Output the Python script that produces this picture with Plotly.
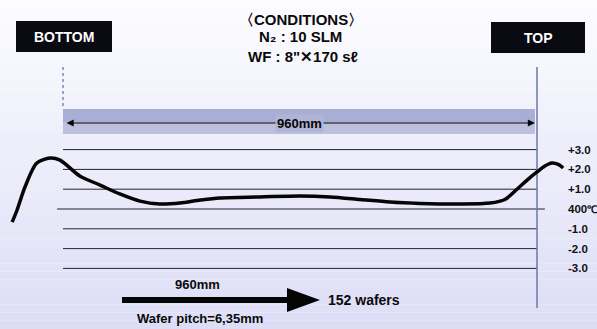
import plotly.graph_objects as go

W, H = 597, 329
PLOT_W = 565  # plot area width; the right margin carries the temperature labels

# Temperature profile along the boat (position in mm, deviation from 400 °C)
position_mm = [-103, -93, -77, -53, -26, -6, 34, 75, 115, 156, 196, 237, 278, 318,
               399, 480, 541, 602, 662, 723, 804, 865, 895, 920, 940, 960, 976,
               990, 1003, 1013]
temp_dev = [-0.66, -0.05, 1.11, 2.32, 2.58, 2.47, 1.67, 1.21, 0.76, 0.40, 0.25,
            0.30, 0.45, 0.56, 0.61, 0.66, 0.61, 0.48, 0.35, 0.28, 0.25, 0.30,
            0.48, 1.01, 1.46, 1.87, 2.17, 2.32, 2.25, 2.07]

levels = [-3, -2, -1, 0, 1, 2, 3]
level_labels = ["-3.0", "-2.0", "-1.0",
                "400<span style='font-size:10.5px'>℃</span>",
                "+1.0", "+2.0", "+3.0"]
zone_length_mm = 960

FONT = "Liberation Sans, Arial, sans-serif"

# pixel helpers for placing decorations
MM_PER_PX = 960 / 474
X0_PX = 63
Y0_PX = 209
PX_PER_DEG = 19.8


def xd(px):
    return (px - X0_PX) * MM_PER_PX


def yd(py):
    return (Y0_PX - py) / PX_PER_DEG


def xp(px):
    return px / PLOT_W


def yp(py):
    return 1 - py / H


fig = go.Figure()

# horizontal reference lines
for lv in levels:
    xs = [-12, 976] if lv == 0 else [0, zone_length_mm]
    fig.add_trace(go.Scatter(x=xs, y=[lv, lv], mode="lines",
                             line=dict(color="#23232f", width=1),
                             hoverinfo="skip", showlegend=False))

# zone boundaries
fig.add_trace(go.Scatter(x=[0, 0], y=[yd(67), yd(109)], mode="lines",
                         line=dict(color="#6b78a6", width=1.3, dash="dot"),
                         hoverinfo="skip", showlegend=False))
fig.add_trace(go.Scatter(x=[zone_length_mm, zone_length_mm], y=[yd(67), yd(308)],
                         mode="lines", line=dict(color="#6b78a6", width=1.5),
                         hoverinfo="skip", showlegend=False))

# temperature profile
fig.add_trace(go.Scatter(x=position_mm, y=temp_dev, mode="lines",
                         line=dict(color="#050505", width=3.5, shape="spline",
                                   smoothing=0.8),
                         showlegend=False))

shapes = []
# background gradient
n = 40
top_c = (252, 252, 255)
bot_c = (221, 221, 246)
for i in range(n):
    t = i / (n - 1)
    c = tuple(round(top_c[k] + (bot_c[k] - top_c[k]) * t) for k in range(3))
    shapes.append(dict(type="rect", xref="paper", yref="paper", layer="below",
                       x0=0, x1=W / PLOT_W, y0=1 - (i + 1) / n, y1=1 - i / n,
                       fillcolor="rgb(%d,%d,%d)" % c, line=dict(width=0)))

# shaded heated-zone band
shapes.append(dict(type="rect", xref="x", yref="y", layer="below",
                   x0=0, x1=xd(535), y0=yd(122), y1=yd(109),
                   fillcolor="#a9afd4", line=dict(width=0)))
shapes.append(dict(type="rect", xref="x", yref="y", layer="below",
                   x0=0, x1=xd(535), y0=yd(134), y1=yd(122),
                   fillcolor="#bcc0dd", line=dict(width=0)))

# BOTTOM / TOP labels
shapes.append(dict(type="rect", xref="paper", yref="paper",
                   x0=xp(16), x1=xp(112), y0=yp(52), y1=yp(21),
                   fillcolor="#0a0a12", line=dict(width=0)))
shapes.append(dict(type="rect", xref="paper", yref="paper",
                   x0=xp(491), x1=xp(585), y0=yp(53), y1=yp(22),
                   fillcolor="#0a0a12", line=dict(width=0)))

# load direction arrow
pts = [(122, 297), (287, 297), (287, 288), (320, 300), (287, 312), (287, 303), (122, 303)]
path = "M " + " L ".join("%.5f,%.5f" % (xp(a), yp(b)) for a, b in pts) + " Z"
shapes.append(dict(type="path", xref="paper", yref="paper", path=path,
                   fillcolor="#050505", line=dict(width=0)))

annotations = []


def text(px, py, s, size=13, color="#0a0a0a", xanchor="center"):
    annotations.append(dict(x=xp(px), y=yp(py), xref="paper", yref="paper",
                            text=s, showarrow=False, xanchor=xanchor,
                            yanchor="middle",
                            font=dict(family=FONT, size=size, color=color,
                                      weight="bold")))


text(301, 19, "〈CONDITIONS〉", size=15)
text(300, 37, "N₂ : 10 SLM", size=15)
text(303, 56, "WF : 8\"✕170 sℓ", size=15)
text(64, 37, "BOTTOM", size=14, color="#ffffff")
text(538, 38, "TOP", size=14, color="#ffffff")

# double-headed arrow across the heated zone
annotations.append(dict(x=xd(535), y=yd(123), ax=xd(65), ay=yd(123),
                        xref="x", yref="y", axref="x", ayref="y", text="",
                        showarrow=True, arrowhead=2, arrowside="end+start",
                        arrowsize=1.2, arrowwidth=1.2, arrowcolor="#050505"))
annotations.append(dict(x=xd(299), y=yd(123), xref="x", yref="y",
                        text="%dmm" % zone_length_mm, showarrow=False,
                        xanchor="center", yanchor="middle",
                        bgcolor="#b0b5d7", borderpad=1,
                        font=dict(family=FONT, size=13, color="#050505",
                                  weight="bold")))

text(197, 284, "%dmm" % zone_length_mm, size=13)
text(200, 318, "Wafer pitch=6,35mm", size=13)
text(326, 300, "152 wafers", size=14, xanchor="left")

fig.update_layout(
    width=W, height=H,
    margin=dict(l=0, r=W - PLOT_W, t=0, b=0, autoexpand=False),
    paper_bgcolor="#fcfcff",
    plot_bgcolor="rgba(0,0,0,0)",
    shapes=shapes,
    annotations=annotations,
    xaxis=dict(range=[xd(0), xd(PLOT_W)], visible=False, fixedrange=True),
    yaxis=dict(range=[yd(H), yd(0)], side="right", tickvals=levels,
               ticktext=level_labels, showgrid=False, zeroline=False,
               showline=False, ticks="", ticklabelstandoff=2,
               automargin=False,
               tickfont=dict(family=FONT, size=11.5, color="#111111",
                             weight="bold"),
               fixedrange=True),
)

fig.write_html("out.html")
